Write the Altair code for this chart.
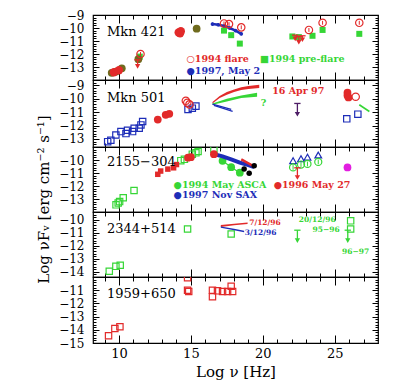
import numpy as np
import pandas as pd
import altair as alt

FONT = "DejaVu Serif"
RED = "#e22a2a"
GREEN = "#36d636"
BLUE = "#1d2db8"
OLIVE = "#6f6b1e"
MAGENTA = "#e21ee0"
PURPLE = "#4e1d66"
BLACK = "#000000"

X_DOMAIN = [8.2, 28.0]
X_LABELS = [10, 15, 20, 25]
X_TICKS = list(range(9, 28))
W = 285

# ---------------- Panel 1 : Mkn 421 ----------------
M421_OLIVE_X = [9.5, 9.8, 10.2, 11.35, 15.4]
M421_OLIVE_Y = [-13.45, -13.35, -13.1, -12.4, -10.05]
M421_RF_X = [9.65, 10.0, 14.15, 14.3, 14.25]
M421_RF_Y = [-13.4, -13.25, -10.35, -10.25, -10.4]
M421_FL_X = [11.5, 17.3, 17.65, 18.5, 23.2, 24.15, 26.7]
M421_FL_Y = [-12.0, -9.65, -9.7, -9.95, -10.15, -9.6, -9.6]
M421_PRE_X = [11.45, 17.3, 17.8, 18.4, 22.05, 22.5, 23.45, 24.15, 26.7]
M421_PRE_Y = [-12.2, -10.2, -10.55, -11.2, -10.65, -10.7, -10.6, -10.15, -10.45]
M421_97_X = [16.5, 16.9, 17.3, 17.7, 18.1, 18.5]
M421_97_Y = [-9.7, -9.75, -9.85, -10.0, -10.2, -10.45]
M421_UL_X = [11.3, 22.25, 22.5, 22.75]
M421_UL_TOP = [-12.45, -10.55, -10.65, -10.6]
M421_UL_BOT = [-12.95, -10.85, -11.1, -10.9]
M421_NOTE_T = ["○1994 flare", "■1994 pre-flare", "●1997, May 2"]
M421_NOTE_X = [14.7, 19.8, 14.7]
M421_NOTE_Y = [-12.4, -12.4, -13.3]
M421_NOTE_C = [RED, GREEN, BLUE]

# ---------------- Panel 2 : Mkn 501 ----------------
M501_BSQ_X = [9.22, 9.44, 9.79, 10.14, 10.49, 10.6, 10.95, 11.06, 11.41, 11.53, 11.65,
              14.8, 15.1, 15.35, 25.83, 26.6]
M501_BSQ_Y = [-13.2, -13.1, -12.7, -12.45, -12.6, -12.35, -12.45, -12.2, -12.2, -11.95, -11.7,
              -10.8, -10.7, -10.55, -11.5, -11.15]
M501_RF_X = [12.7, 13.25, 13.5, 25.88, 25.88, 25.95]
M501_RF_Y = [-11.55, -11.2, -11.12, -9.55, -9.75, -9.9]
M501_RO_X = [14.65, 14.75, 14.9, 26.45]
M501_RO_Y = [-10.15, -10.3, -10.42, -9.85]
M501_RB_X = [16.5, 17.0, 17.5, 18.0, 18.5, 19.0, 19.75]
M501_RB_LO = [-10.35, -9.95, -9.7, -9.5, -9.35, -9.28, -9.2]
M501_RB_HI = [-10.25, -9.8, -9.5, -9.3, -9.15, -9.05, -8.95]
M501_GB_X = [16.5, 17.5, 18.5, 19.6]
M501_GB_LO = [-10.45, -10.2, -9.95, -9.85]
M501_GB_HI = [-10.35, -10.0, -9.75, -9.55]
M501_BL1_X = [16.5, 17.8]
M501_BL1_Y = [-10.4, -10.8]
M501_BL2_X = [16.6, 17.9]
M501_BL2_Y = [-10.5, -10.95]
M501_GL_X = [26.7, 27.4]
M501_GL_Y = [-10.45, -10.95]
M501_UL_X = [22.4]
M501_UL_TOP = [-10.35]
M501_UL_BOT = [-11.15]
M501_NOTE_T = ["16 Apr 97", "?"]
M501_NOTE_X = [20.65, 19.85]
M501_NOTE_Y = [-9.4, -10.3]
M501_NOTE_C = [RED, GREEN]

# ---------------- Panel 3 : 2155-304 ----------------
P3_GSQ_X = [9.8, 9.95, 10.05, 10.3, 11.05, 14.3, 14.55, 15.1, 15.35, 15.5, 16.6]
P3_GSQ_Y = [-13.45, -13.3, -13.2, -12.9, -12.35, -10.05, -9.95, -9.55, -9.45, -9.35, -9.2]
P3_RSQ_X = [12.7, 12.9, 13.4, 13.8, 14.0]
P3_RSQ_Y = [-11.1, -10.85, -10.7, -10.6, -10.35]
P3_RF_X = [14.8, 15.0, 16.6]
P3_RF_Y = [-9.82, -9.78, -9.55]
P3_SAX_X = [16.6, 17.2, 17.8, 18.4, 19.0, 19.4]
P3_SAX_Y = [-9.55, -9.72, -9.95, -10.2, -10.4, -10.55]
P3_R96_X = [18.5, 19.4]
P3_R96_Y = [-9.95, -10.5]
P3_ASCA_X = [17.2, 17.8, 18.4]
P3_ASCA_Y = [-10.06, -10.55, -10.98]
P3_BK_X = [18.7, 19.05, 19.4]
P3_BK_Y = [-10.69, -11.02, -10.44]
P3_TRI_X = [22.1, 22.65, 23.1, 23.85]
P3_TRI_Y = [-10.05, -9.9, -9.78, -9.62]
P3_GO_X = [22.1, 22.65, 23.1, 23.85]
P3_GO_Y = [-10.57, -10.35, -10.3, -10.15]
P3_UL_X = [22.4]
P3_UL_TOP = [-10.6]
P3_UL_BOT = [-11.35]
P3_MAG_X = [25.88]
P3_MAG_Y = [-10.57]
P3_NOTE_T = ["●1994 May ASCA", "●1996 May 27", "●1997 Nov SAX"]
P3_NOTE_X = [13.8, 20.75, 13.8]
P3_NOTE_Y = [-11.9, -11.9, -12.67]
P3_NOTE_C = [GREEN, RED, BLUE]

# ---------------- Panel 4 : 2344+514 ----------------
P4_GSQ_X = [9.33, 9.79, 10.09, 14.77, 17.8, 26.1, 26.1]
P4_GSQ_Y = [-13.96, -13.58, -13.5, -10.71, -11.09, -10.08, -10.71]
P4_RB_X = [17.08, 18.0, 18.94]
P4_RB_LO = [-10.56, -10.42, -10.32]
P4_RB_HI = [-10.4, -10.3, -10.2]
P4_BB_X = [17.08, 18.0, 18.7]
P4_BB_LO = [-10.62, -10.8, -10.95]
P4_BB_HI = [-10.52, -10.68, -10.85]
P4_UL_X = [22.4, 25.9]
P4_UL_TOP = [-10.8, -10.8]
P4_UL_BOT = [-11.6, -11.6]
P4_NOTE_T = ["7/12/96", "3/12/96", "20/12/96", "95−96", "96−97"]
P4_NOTE_X = [19.05, 18.75, 22.5, 23.45, 25.5]
P4_NOTE_Y = [-10.26, -11.0, -10.05, -10.75, -12.48]
P4_NOTE_C = [RED, BLUE, GREEN, GREEN, GREEN]

# ---------------- Panel 5 : 1959+650 ----------------
P5_RSQ_X = [9.28, 9.72, 10.07, 14.77, 14.77, 14.85, 16.5, 16.85, 17.2, 17.55, 17.8, 17.9, 16.5]
P5_RSQ_Y = [-14.45, -13.9, -13.77, -10.05, -11.0, -11.1, -11.0, -11.05, -11.1, -11.1, -10.7, -11.1, -11.5]

NAMES = ["Mkn 421", "Mkn 501", "2155−304", "2344+514", "1959+650"]
NAME_X = [9.17, 9.17, 9.17, 9.17, 9.17]
NAME_Y = [-10.34, -9.94, -10.19, -10.71, -11.31]

Y_DOMAINS = [[-14.0, -9.0], [-13.6, -8.6], [-14.0, -9.0], [-14.4, -9.4], [-15.0, -10.0]]
Y_LABELS = [[-9, -10, -11, -12, -13], [-9, -10, -11, -12, -13], [-10, -11, -12, -13],
            [-10, -11, -12, -13, -14], [-11, -12, -13, -14, -15]]
HEIGHTS = [65, 67, 65, 65, 66]

XS = alt.Scale(domain=X_DOMAIN, nice=False, zero=False)


def xe(axis=None):
    return alt.X("x:Q", scale=XS, axis=axis)


def ye(ys, axis=None):
    return alt.Y("y:Q", scale=ys, axis=axis)


def pts(ys, x, y, shape, color, filled, size=42, sw=1.2):
    df = pd.DataFrame({"x": x, "y": y})
    return alt.Chart(df).mark_point(shape=shape, color=color, filled=filled, size=size,
                                    strokeWidth=sw, opacity=1, clip=True).encode(x=xe(), y=ye(ys))


def line(ys, x, y, color, sw=1.4):
    df = pd.DataFrame({"x": x, "y": y})
    return alt.Chart(df).mark_line(color=color, strokeWidth=sw, clip=True).encode(x=xe(), y=ye(ys))


def band(ys, x, lo, hi, color):
    df = pd.DataFrame({"x": x, "y": lo, "y2": hi})
    return alt.Chart(df).mark_area(color=color, opacity=1, clip=True).encode(
        x=xe(), y=ye(ys), y2="y2:Q")


def errs(ys, x, y, e, color):
    df = pd.DataFrame({"x": x, "y": [v - e for v in y], "y2": [v + e for v in y]})
    return alt.Chart(df).mark_rule(color=color, strokeWidth=1).encode(x=xe(), y=ye(ys), y2="y2:Q")


def uls(ys, x, top, bot, color):
    df = pd.DataFrame({"x": x, "y": top, "y2": bot})
    r = alt.Chart(df).mark_rule(color=color, strokeWidth=1.3).encode(x=xe(), y=ye(ys), y2="y2:Q")
    bar = alt.Chart(df).mark_point(shape="stroke", color=color, size=40, strokeWidth=1.3,
                                   opacity=1).encode(x=xe(), y=ye(ys))
    head = alt.Chart(pd.DataFrame({"x": x, "y": bot})).mark_point(
        shape="triangle-down", filled=True, color=color, size=28, opacity=1).encode(x=xe(), y=ye(ys))
    return [r, bar, head]


def txt(ys, t, x, y, c, size=9.5, weight="bold"):
    df = pd.DataFrame({"t": t, "x": x, "y": y, "c": c})
    return alt.Chart(df).mark_text(align="left", baseline="middle", font=FONT, fontSize=size,
                                   fontWeight=weight).encode(
        x=xe(), y=ye(ys), text="t:N", color=alt.Color("c:N", scale=None))


def axis_layers(ys, ydom, ylabels, h, bottom=False, ytitle=None):
    dummy = pd.DataFrame({"x": [20.0], "y": [(ydom[0] + ydom[1]) / 2]})
    base = alt.Chart(dummy).mark_point(opacity=0)
    lo = np.ceil(ydom[0] * 5 - 1e-6) / 5
    yminor = [round(float(v), 1) for v in np.arange(lo, ydom[1] + 1e-6, 0.2)]
    ymaj = {"condition": {"test": "abs(datum.value - round(datum.value)) < 0.01", "value": 6},
            "value": 3}
    xmaj = {"condition": {"test": "datum.value % 5 === 0", "value": 8}, "value": 4}
    common = dict(labels=False, domain=False, grid=False, title=None, tickColor=BLACK, tickWidth=1)
    yax = dict(values=ylabels, orient="left", ticks=False, domain=False, grid=False,
               labelFont=FONT, labelFontSize=12, labelPadding=9, labelOverlap=False,
               labelFlush=False, labelColor=BLACK, format="d")
    if ytitle:
        yax.update(title=ytitle, titleFont=FONT, titleFontSize=15, titleFontWeight="normal",
                   titleColor=BLACK, titleX=-42, titleY=52, titleAngle=270,
                   titleBaseline="bottom", titleAlign="center")
    else:
        yax["title"] = None
    xax = None
    if bottom:
        xax = alt.Axis(values=X_LABELS, orient="bottom", ticks=False, domain=False, grid=False,
                       labelFont=FONT, labelFontSize=13, labelPadding=4, labelFlush=False,
                       labelColor=BLACK, title="Log ν  [Hz]", titleFont=FONT, titleFontSize=15,
                       titleFontWeight="normal", titlePadding=4, titleColor=BLACK)
    return [
        base.encode(x=xe(xax), y=ye(ys, alt.Axis(**yax))),
        base.encode(x=xe(), y=ye(ys, alt.Axis(orient="right", offset=-W, values=yminor,
                                              tickSize=ymaj, **common))),
        base.encode(x=xe(), y=ye(ys, alt.Axis(orient="left", offset=-W, values=yminor,
                                              tickSize=ymaj, **common))),
        base.encode(x=xe(alt.Axis(orient="top", offset=-h, values=X_TICKS, tickSize=xmaj,
                                  **common)), y=ye(ys)),
        base.encode(x=xe(alt.Axis(orient="bottom", offset=-h, values=X_TICKS, tickSize=xmaj,
                                  **common)), y=ye(ys)),
    ]


def p1(ys):
    L = [line(ys, M421_97_X, M421_97_Y, BLUE, 2.5),
         errs(ys, M421_97_X, M421_97_Y, 0.12, BLUE),
         pts(ys, M421_97_X, M421_97_Y, "circle", BLUE, True, 14),
         pts(ys, M421_PRE_X, M421_PRE_Y, "square", GREEN, True, 36),
         pts(ys, M421_OLIVE_X, M421_OLIVE_Y, "circle", OLIVE, True, 60),
         pts(ys, M421_RF_X, M421_RF_Y, "circle", RED, True, 70)]
    L += uls(ys, M421_UL_X, M421_UL_TOP, M421_UL_BOT, RED)
    L += [errs(ys, M421_FL_X, M421_FL_Y, 0.15, RED),
          pts(ys, M421_FL_X, M421_FL_Y, "circle", RED, False, 55),
          txt(ys, M421_NOTE_T, M421_NOTE_X, M421_NOTE_Y, M421_NOTE_C)]
    return L


def p2(ys):
    L = [band(ys, M501_RB_X, M501_RB_LO, M501_RB_HI, RED),
         band(ys, M501_GB_X, M501_GB_LO, M501_GB_HI, GREEN),
         line(ys, M501_BL1_X, M501_BL1_Y, BLUE, 1.3),
         line(ys, M501_BL2_X, M501_BL2_Y, BLUE, 1.3),
         line(ys, M501_GL_X, M501_GL_Y, GREEN, 1.6),
         pts(ys, M501_BSQ_X, M501_BSQ_Y, "square", BLUE, False, 40),
         pts(ys, M501_RF_X, M501_RF_Y, "circle", RED, True, 60),
         pts(ys, M501_RO_X, M501_RO_Y, "circle", RED, False, 55)]
    L += uls(ys, M501_UL_X, M501_UL_TOP, M501_UL_BOT, PURPLE)
    L += [txt(ys, M501_NOTE_T, M501_NOTE_X, M501_NOTE_Y, M501_NOTE_C)]
    return L


def p3(ys):
    L = [pts(ys, P3_GSQ_X, P3_GSQ_Y, "square", GREEN, False, 40),
         errs(ys, P3_RSQ_X, P3_RSQ_Y, 0.12, RED),
         pts(ys, P3_RSQ_X, P3_RSQ_Y, "square", RED, True, 30),
         line(ys, P3_ASCA_X, P3_ASCA_Y, GREEN, 1.2),
         pts(ys, P3_ASCA_X, P3_ASCA_Y, "circle", GREEN, True, 60),
         line(ys, P3_SAX_X, P3_SAX_Y, BLUE, 4),
         line(ys, P3_R96_X, P3_R96_Y, RED, 2.5),
         pts(ys, P3_RF_X, P3_RF_Y, "circle", RED, True, 60),
         errs(ys, P3_BK_X, P3_BK_Y, 0.12, BLACK),
         pts(ys, P3_BK_X, P3_BK_Y, "circle", BLACK, True, 30),
         pts(ys, P3_TRI_X, P3_TRI_Y, "triangle-up", BLUE, False, 45),
         errs(ys, P3_GO_X, P3_GO_Y, 0.18, GREEN),
         pts(ys, P3_GO_X, P3_GO_Y, "circle", GREEN, False, 50),
         pts(ys, P3_MAG_X, P3_MAG_Y, "circle", MAGENTA, True, 60)]
    L += uls(ys, P3_UL_X, P3_UL_TOP, P3_UL_BOT, RED)
    L += [txt(ys, P3_NOTE_T, P3_NOTE_X, P3_NOTE_Y, P3_NOTE_C)]
    return L


def p4(ys):
    L = [pts(ys, P4_GSQ_X, P4_GSQ_Y, "square", GREEN, False, 40),
         band(ys, P4_RB_X, P4_RB_LO, P4_RB_HI, RED),
         band(ys, P4_BB_X, P4_BB_LO, P4_BB_HI, BLUE)]
    L += uls(ys, P4_UL_X, P4_UL_TOP, P4_UL_BOT, GREEN)
    L += [txt(ys, P4_NOTE_T, P4_NOTE_X, P4_NOTE_Y, P4_NOTE_C, size=7.5)]
    return L


def p5(ys):
    return [pts(ys, P5_RSQ_X, P5_RSQ_Y, "square", RED, False, 40)]


panels = []
builders = [p1, p2, p3, p4, p5]
for i in range(5):
    ys = alt.Scale(domain=Y_DOMAINS[i], nice=False, zero=False)
    layers = axis_layers(ys, Y_DOMAINS[i], Y_LABELS[i], HEIGHTS[i], bottom=(i == 4),
                         ytitle=("Log νFᵥ [erg cm⁻² s⁻¹]" if i == 2 else None))
    layers += builders[i](ys)
    layers.append(txt(ys, [NAMES[i]], [NAME_X[i]], [NAME_Y[i]], [BLACK], size=13, weight="normal"))
    panels.append(alt.layer(*layers).resolve_axis(x="independent", y="independent")
                  .properties(width=W, height=HEIGHTS[i]))

chart = alt.vconcat(*panels, spacing=0, bounds="flush").properties(
    padding={"left": 27, "top": 0, "right": 5, "bottom": 2}, background="white"
).configure_view(stroke=BLACK, strokeWidth=1.2)

chart.save("out.html", embed_options={"renderer": "svg", "actions": False})
